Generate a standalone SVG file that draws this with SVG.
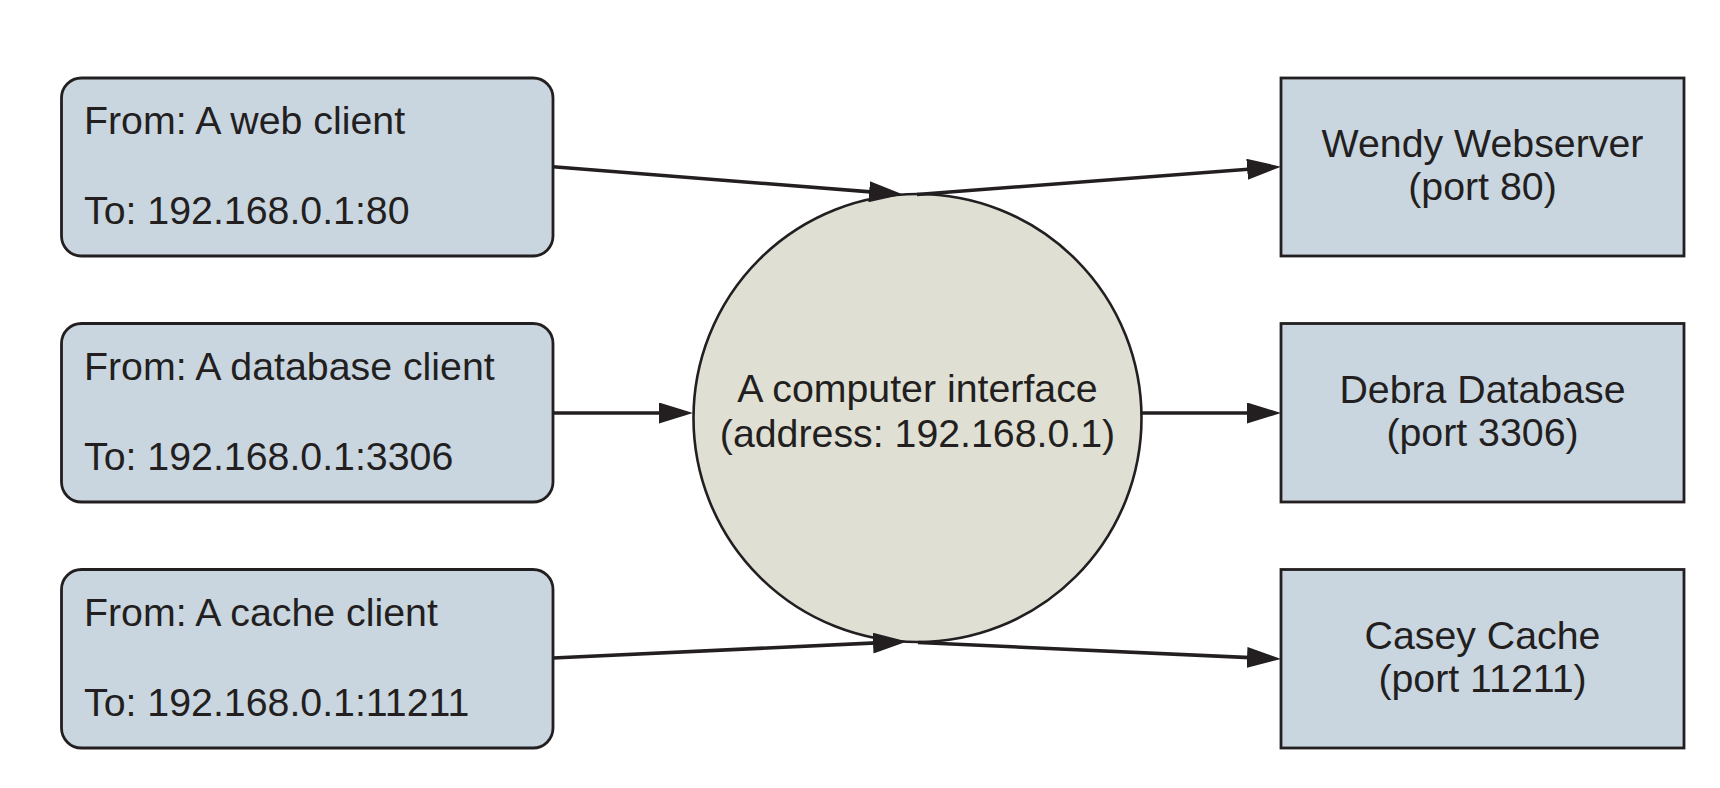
<svg xmlns="http://www.w3.org/2000/svg" width="1720" height="788" viewBox="0 0 1720 788">
<style>
  text { font-family: "Liberation Sans", Arial, sans-serif; font-size: 39.3px; fill: #231f20; }
  .c { text-anchor: middle; }
  .box { fill: #c9d6e0; stroke: #231f20; stroke-width: 2.8; }
  .iface { fill: #dfdfd4; stroke: #231f20; stroke-width: 2.6; }
  .edge { fill: none; stroke: #231f20; stroke-width: 3.6; marker-end: url(#arrow); }
</style>
<defs>
  <marker id="arrow" markerUnits="userSpaceOnUse" markerWidth="34" markerHeight="21" viewBox="0 0 34 21" refX="14" refY="10.5" orient="auto">
    <path d="M0,0 L34,10.5 L0,21 z" fill="#231f20"/>
  </marker>
</defs>
<rect width="1720" height="788" fill="#ffffff"/>

<g id="web-client">
  <rect class="box" x="61.5" y="78" width="491.5" height="178" rx="20" ry="20"/>
  <text x="84" y="134">From: A web client</text>
  <text x="84" y="224">To: 192.168.0.1:80</text>
</g>
<g id="db-client">
  <rect class="box" x="61.5" y="323.5" width="491.5" height="178.5" rx="20" ry="20"/>
  <text x="84" y="380">From: A database client</text>
  <text x="84" y="470">To: 192.168.0.1:3306</text>
</g>
<g id="cache-client">
  <rect class="box" x="61.5" y="569.5" width="491.5" height="178.5" rx="20" ry="20"/>
  <text x="84" y="626">From: A cache client</text>
  <text x="84" y="716">To: 192.168.0.1:11211</text>
</g>

<g id="interface">
  <circle class="iface" cx="917.5" cy="418" r="224"/>
  <text class="c" x="917.5" y="402">A computer interface</text>
  <text class="c" x="917.5" y="447">(address: 192.168.0.1)</text>
</g>

<g id="webserver">
  <rect class="box" x="1281" y="78" width="403" height="178"/>
  <text class="c" x="1482.5" y="157">Wendy Webserver</text>
  <text class="c" x="1482.5" y="200">(port 80)</text>
</g>
<g id="database">
  <rect class="box" x="1281" y="323.5" width="403" height="178.5"/>
  <text class="c" x="1482.5" y="403">Debra Database</text>
  <text class="c" x="1482.5" y="446">(port 3306)</text>
</g>
<g id="cache">
  <rect class="box" x="1281" y="569.5" width="403" height="178.5"/>
  <text class="c" x="1482.5" y="649">Casey Cache</text>
  <text class="c" x="1482.5" y="692">(port 11211)</text>
</g>

<g id="connectors">
  <path class="edge" d="M553,166.7 L883.1,192.9"/>
  <path class="edge" d="M917,194.5 L1261.1,168.2"/>
  <path class="edge" d="M553,413 L673,413"/>
  <path class="edge" d="M1142,413 L1261,413"/>
  <path class="edge" d="M553,658 L887,642.4"/>
  <path class="edge" d="M918,642.5 L1261,658.1"/>
</g>
</svg>
